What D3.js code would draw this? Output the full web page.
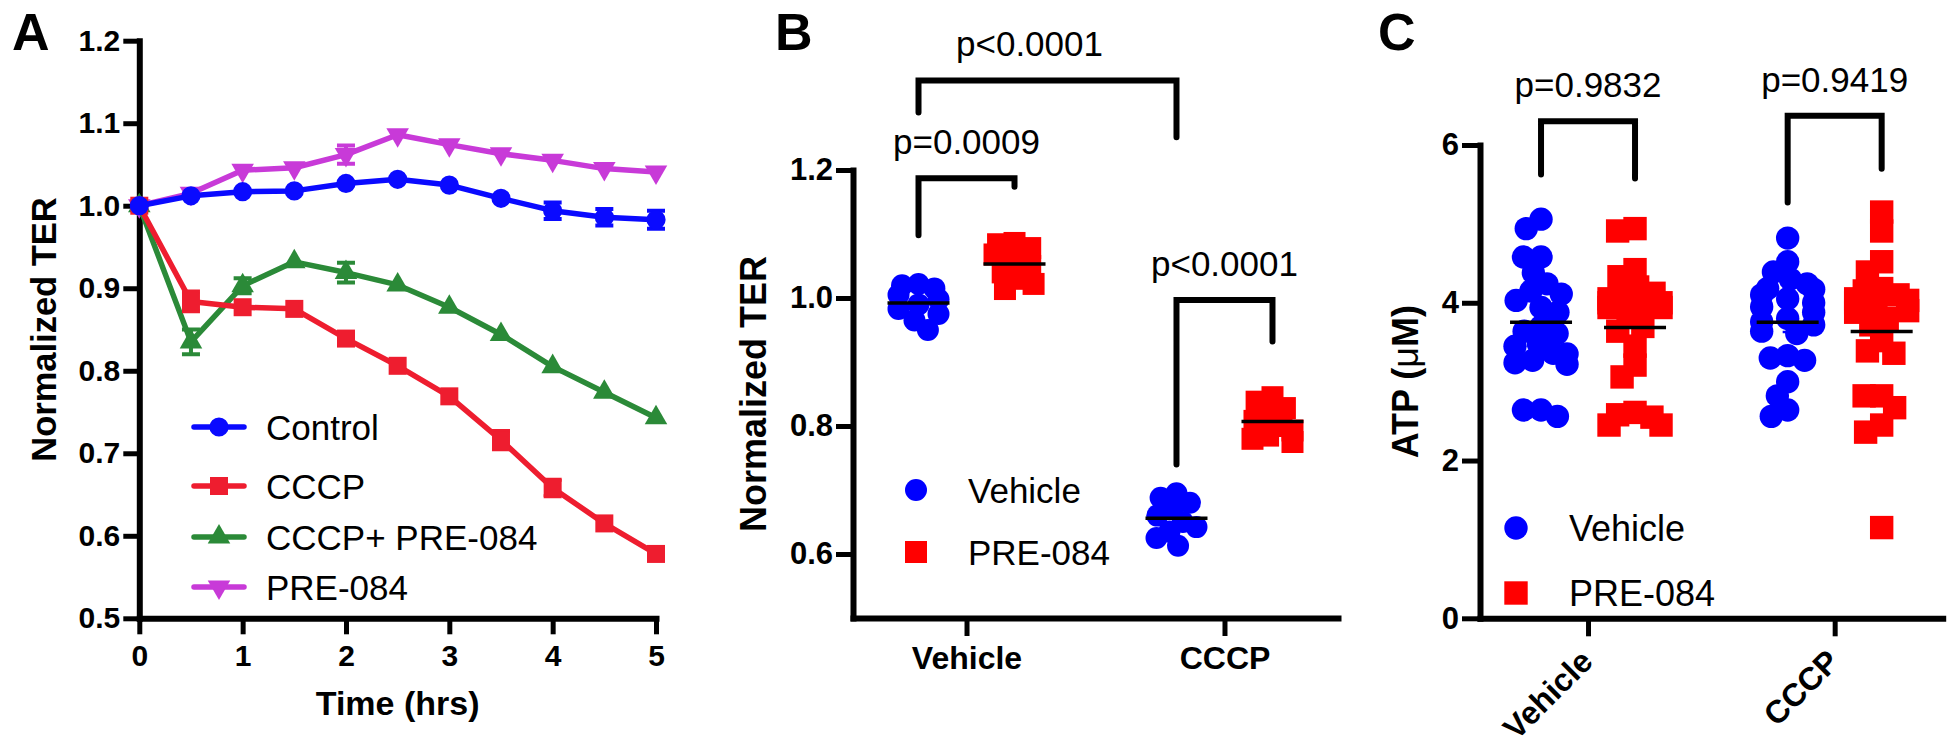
<!DOCTYPE html>
<html><head><meta charset="utf-8">
<script src="https://cdn.jsdelivr.net/npm/d3@7"></script>
<style>
body{margin:0;background:#fff;}
svg text{font-family:"Liberation Sans",Arial,Helvetica,sans-serif;fill:#000;}
</style>
</head><body>
<svg id="chart" width="1950" height="746"></svg>
<script>
// ---------------- Panel A data ----------------
const timeHrs = [0, 0.5, 1, 1.5, 2, 2.5, 3, 3.5, 4, 4.5, 5];
const controlMean = [1.000, 1.012, 1.017, 1.018, 1.027, 1.032, 1.025, 1.009, 0.994, 0.986, 0.983];
const controlSem  = [0, 0.003, 0.003, 0.003, 0.003, 0.003, 0.003, 0.004, 0.010, 0.010, 0.011];
const cccpMean    = [1.000, 0.884, 0.877, 0.875, 0.839, 0.806, 0.769, 0.716, 0.658, 0.615, 0.578];
const cccpSem     = [0, 0.012, 0.004, 0.004, 0.004, 0.004, 0.004, 0.011, 0.010, 0.004, 0.004];
const cccpPreMean = [1.000, 0.835, 0.903, 0.932, 0.919, 0.904, 0.877, 0.844, 0.805, 0.774, 0.743];
const cccpPreSem  = [0, 0.015, 0.009, 0.004, 0.012, 0.004, 0.004, 0.004, 0.004, 0.004, 0.004];
const preMean     = [1.000, 1.015, 1.043, 1.046, 1.062, 1.086, 1.074, 1.063, 1.055, 1.045, 1.041];
const preSem      = [0, 0.003, 0.004, 0.004, 0.011, 0.004, 0.003, 0.003, 0.003, 0.003, 0.003];
const seriesNamesA = ["Control", "CCCP", "CCCP+ PRE-084", "PRE-084"];
const xTicksA = [0, 1, 2, 3, 4, 5];
const yTicksA = [0.5, 0.6, 0.7, 0.8, 0.9, 1.0, 1.1, 1.2];
const xTitleA = "Time (hrs)";
const yTitleAB = "Normalized TER";

// ---------------- Panel B / C data ----------------
const groupsBC = ["Vehicle", "CCCP"];
const treatments = ["Vehicle", "PRE-084"];
const terVehicleVehicle = [1.022, 1.020, 1.015, 1.005, 0.998, 0.990, 0.983, 0.975, 0.965, 0.950];
const terVehiclePre     = [1.086, 1.084, 1.078, 1.068, 1.058, 1.050, 1.040, 1.030, 1.022, 1.014];
const terCccpVehicle    = [0.695, 0.688, 0.680, 0.670, 0.660, 0.650, 0.642, 0.635, 0.625, 0.613];
const terCccpPre        = [0.845, 0.838, 0.828, 0.818, 0.808, 0.800, 0.793, 0.785, 0.780, 0.775];
const yTicksB = [0.6, 0.8, 1.0, 1.2];
const bracketsB = [
  {a:["Vehicle","Vehicle"], b:["Vehicle","PRE-084"], top:1.187, endA:1.098, endB:1.174, label:"p=0.0009"},
  {a:["Vehicle","Vehicle"], b:["CCCP","Vehicle"],    top:1.340, endA:1.290, endB:1.251, label:"p<0.0001"},
  {a:["CCCP","Vehicle"],    b:["CCCP","PRE-084"],    top:0.997, endA:0.740, endB:0.932, label:"p<0.0001"}
];

const atpVehicleVehicle = [5.06, 4.94, 4.58, 4.58, 4.38, 4.24, 4.15, 4.03, 4.11, 3.94, 3.88, 3.64, 3.61, 3.70, 3.48, 3.45, 3.36, 3.27, 2.64, 2.64, 2.56, 3.35, 3.24, 3.22];
const atpVehiclePre     = [4.91, 4.94, 4.42, 4.33, 4.12, 4.09, 3.94, 3.94, 3.82, 3.70, 3.64, 3.45, 3.21, 3.06, 2.58, 2.61, 2.45, 2.45, 2.55, 4.20, 4.05, 3.98, 4.00, 4.00];
const atpCccpVehicle    = [4.82, 4.52, 4.39, 4.30, 4.24, 4.17, 4.18, 4.00, 3.88, 3.76, 3.64, 3.61, 3.33, 3.30, 3.27, 3.00, 2.82, 2.64, 2.56, 4.10, 4.05, 3.95, 3.80, 3.72];
const atpCccpPre        = [5.15, 4.91, 4.52, 4.39, 4.18, 4.15, 4.00, 4.03, 3.97, 3.88, 3.52, 3.36, 3.39, 2.82, 2.82, 2.67, 2.45, 2.36, 1.15, 4.10, 4.05, 3.90, 3.80, 3.72];
const yTicksC = [0, 2, 4, 6];
const yTitleC = "ATP (";
const bracketsC = [
  {a:["Vehicle","Vehicle"], b:["Vehicle","PRE-084"], top:6.30, endA:5.625, endB:5.575, label:"p=0.9832"},
  {a:["CCCP","Vehicle"],    b:["CCCP","PRE-084"],    top:6.37, endA:5.27,  endB:5.70,  label:"p=0.9419"}
];
const panelLetters = ["A", "B", "C"];

// ---------------- drawing ----------------
const svg = d3.select("#chart");
const BLUE = "#0000ff", RED = "#ff0000";

function styleAxis(g, fs, bold) {
  g.attr("font-size", null).attr("font-family", null);
  g.select(".domain").attr("stroke", "#000").attr("stroke-width", 6).attr("stroke-linecap", "square");
  g.selectAll(".tick line").attr("stroke", "#000").attr("stroke-width", 5);
  g.selectAll(".tick text").attr("fill", "#000")
    .style("font-size", fs + "px").style("font-weight", bold ? "bold" : "normal");
}

// Panel letters
[[12, 50], [775, 50], [1378, 50]].forEach((p, i) => {
  svg.append("text").attr("x", p[0]).attr("y", p[1]).style("font-size", "52px").style("font-weight", "bold").text(panelLetters[i]);
});

// ===== Panel A =====
const xA = d3.scaleLinear().domain([0, 5]).range([139.3, 656]);
const yA = d3.scaleLinear().domain([0.5, 1.2]).range([618.3, 40.7]);
const gA = svg.append("g");
gA.append("g").attr("transform", `translate(0,${yA(0.5)})`)
  .call(d3.axisBottom(xA).tickValues(xTicksA).tickFormat(d3.format("d")).tickSize(16).tickSizeOuter(0).tickPadding(10))
  .call(g => styleAxis(g, 30, true));
gA.append("g").attr("transform", `translate(${xA(0)},0)`)
  .call(d3.axisLeft(yA).tickValues(yTicksA).tickFormat(d3.format(".1f")).tickSize(16).tickSizeOuter(0).tickPadding(3))
  .call(g => styleAxis(g, 30, true));
gA.append("text").attr("x", (xA(0) + xA(5)) / 2).attr("y", 715).attr("text-anchor", "middle")
  .style("font-size", "34px").style("font-weight", "bold").text(xTitleA);
gA.append("text").attr("transform", `translate(44,${(yA(0.5) + yA(1.2)) / 2}) rotate(-90)`).attr("dy", "0.36em")
  .attr("text-anchor", "middle").style("font-size", "34.5px").style("font-weight", "bold").text(yTitleAB);

const seriesA = [
  {name: seriesNamesA[0], mean: controlMean, sem: controlSem, color: "#0a0aff", sym: d3.symbolCircle, size: 290, rot: 0},
  {name: seriesNamesA[1], mean: cccpMean, sem: cccpSem, color: "#ee1d2f", sym: d3.symbolSquare, size: 324, rot: 0},
  {name: seriesNamesA[2], mean: cccpPreMean, sem: cccpPreSem, color: "#2b8a38", sym: d3.symbolTriangle, size: 220, rot: 0},
  {name: seriesNamesA[3], mean: preMean, sem: preSem, color: "#c83ad8", sym: d3.symbolTriangle, size: 220, rot: 180}
];
const lineA = d3.line().x((d, i) => xA(timeHrs[i])).y(d => yA(d));
[3, 2, 1, 0].forEach(si => {
  const s = seriesA[si];
  const g = gA.append("g");
  g.append("path").attr("d", lineA(s.mean)).attr("fill", "none").attr("stroke", s.color)
    .attr("stroke-width", 5.5).attr("stroke-linejoin", "round");
  s.mean.forEach((m, i) => {
    const e = s.sem[i];
    if (e > 0.005) {
      const x = xA(timeHrs[i]);
      g.append("path").attr("d", `M${x},${yA(m - e)}V${yA(m + e)}M${x - 9},${yA(m - e)}H${x + 9}M${x - 9},${yA(m + e)}H${x + 9}`)
        .attr("stroke", s.color).attr("stroke-width", 4).attr("fill", "none");
    }
  });
  g.selectAll("path.pt").data(s.mean).join("path").attr("class", "pt")
    .attr("transform", (d, i) => `translate(${xA(timeHrs[i])},${yA(d)}) rotate(${s.rot})`)
    .attr("d", d3.symbol().type(s.sym).size(s.size)).attr("fill", s.color);
});
// legend A
const legYA = [427, 486, 537, 587];
seriesA.forEach((s, i) => {
  const y = legYA[i];
  gA.append("line").attr("x1", 194).attr("x2", 244).attr("y1", y).attr("y2", y)
    .attr("stroke", s.color).attr("stroke-width", 5.5).attr("stroke-linecap", "round");
  gA.append("path").attr("transform", `translate(219,${y}) rotate(${s.rot})`)
    .attr("d", d3.symbol().type(s.sym).size(s.size)).attr("fill", s.color);
  gA.append("text").attr("x", 266).attr("y", y + 12.5).style("font-size", "35px").text(s.name);
});

// ===== helpers for scatter panels =====
function swarm(values, y, r, maxOff) {
  const order = values.map((v, i) => i).sort((a, b) => values[b] - values[a]);
  const placed = [], out = new Array(values.length);
  const minD = r * 1.5;
  order.forEach(i => {
    const yi = y(values[i]);
    const iv = [];
    placed.forEach(p => {
      const dy = Math.abs(p.y - yi);
      if (dy < minD) { const dx = Math.sqrt(minD * minD - dy * dy); iv.push([p.x - dx, p.x + dx]); }
    });
    const cands = [0];
    iv.forEach(v => cands.push(v[0], v[1]));
    cands.sort((a, b) => Math.abs(a) - Math.abs(b) || a - b);
    let x = 0;
    for (const c of cands) {
      if (iv.every(v => c <= v[0] + 1e-6 || c >= v[1] - 1e-6)) { x = c; break; }
    }
    x = Math.max(-maxOff, Math.min(maxOff, x));
    placed.push({x: x, y: yi});
    out[i] = x;
  });
  return out;
}

function scatterPanel(cfg) {
  const g = svg.append("g");
  const x = cfg.x, y = cfg.y;
  const gx = (grp, tr) => x(grp) + (tr === treatments[0] ? -cfg.off : cfg.off);
  cfg.sets.forEach(set => {
    const cx = gx(set.group, set.treat);
    const color = set.treat === treatments[0] ? BLUE : RED;
    const jit = swarm(set.values, y, cfg.r, cfg.maxOff);
    set.values.forEach((v, i) => {
      if (set.treat === treatments[0]) {
        g.append("circle").attr("cx", cx + jit[i]).attr("cy", y(v)).attr("r", cfg.r).attr("fill", color);
      } else {
        g.append("rect").attr("x", cx + jit[i] - cfg.r).attr("y", y(v) - cfg.r)
          .attr("width", 2 * cfg.r).attr("height", 2 * cfg.r).attr("fill", color);
      }
    });
    const m = d3.mean(set.values);
    const sem = d3.deviation(set.values) / Math.sqrt(set.values.length);
    g.append("path").attr("d", `M${cx},${y(m - sem)}V${y(m + sem)}M${cx - 5},${y(m - sem)}H${cx + 5}M${cx - 5},${y(m + sem)}H${cx + 5}`)
      .attr("stroke", color).attr("stroke-width", 2.5).attr("fill", "none");
    g.append("line").attr("x1", cx - 31).attr("x2", cx + 31).attr("y1", y(m)).attr("y2", y(m))
      .attr("stroke", "#000").attr("stroke-width", 3.5);
  });
  cfg.brackets.forEach((b, k) => {
    const x1 = gx(b.a[0], b.a[1]), x2 = gx(b.b[0], b.b[1]);
    g.append("path").attr("d", `M${x1},${y(b.endA)}V${y(b.top)}H${x2}V${y(b.endB)}`)
      .attr("fill", "none").attr("stroke", "#000").attr("stroke-width", 6)
      .attr("stroke-linecap", "round").attr("stroke-linejoin", "miter");
    g.append("text").attr("x", (x1 + x2) / 2 + (cfg.labelDx[k] || 0)).attr("y", y(b.top) - 24)
      .attr("text-anchor", "middle").style("font-size", "35px").text(b.label);
  });
  // legend
  g.append("circle").attr("cx", cfg.leg.x).attr("cy", cfg.leg.y1).attr("r", cfg.r).attr("fill", BLUE);
  g.append("rect").attr("x", cfg.leg.x - cfg.r).attr("y", cfg.leg.y2 - cfg.r).attr("width", 2 * cfg.r).attr("height", 2 * cfg.r).attr("fill", RED);
  g.append("text").attr("x", cfg.leg.tx).attr("y", cfg.leg.y1 + 12.5).style("font-size", cfg.leg.fs + "px").text(treatments[0]);
  g.append("text").attr("x", cfg.leg.tx).attr("y", cfg.leg.y2 + 12.5).style("font-size", cfg.leg.fs + "px").text(treatments[1]);
  return g;
}

// ===== Panel B =====
const xB = d3.scalePoint().domain(groupsBC).range([853, 1338]).padding(0.44);
const yB = d3.scaleLinear().domain([0.5, 1.2]).range([618, 170]);
const gBax = svg.append("g");
gBax.append("g").attr("transform", `translate(0,${yB(0.5)})`)
  .call(d3.axisBottom(xB).tickSize(18).tickSizeOuter(0).tickPadding(10))
  .call(g => styleAxis(g, 32, true));
gBax.append("g").attr("transform", `translate(853,0)`)
  .call(d3.axisLeft(yB).tickValues(yTicksB).tickFormat(d3.format(".1f")).tickSize(17).tickSizeOuter(0).tickPadding(3))
  .call(g => styleAxis(g, 31, true));
gBax.append("text").attr("transform", `translate(753,${(yB(0.5) + yB(1.2)) / 2}) rotate(-90)`).attr("dy", "0.36em")
  .attr("text-anchor", "middle").style("font-size", "36px").style("font-weight", "bold").text(yTitleAB);
scatterPanel({
  x: xB, y: yB, off: 48, r: 11, maxOff: 20,
  sets: [
    {group: "Vehicle", treat: "Vehicle", values: terVehicleVehicle},
    {group: "Vehicle", treat: "PRE-084", values: terVehiclePre},
    {group: "CCCP", treat: "Vehicle", values: terCccpVehicle},
    {group: "CCCP", treat: "PRE-084", values: terCccpPre}
  ],
  brackets: bracketsB, labelDx: [0, -18, 0],
  leg: {x: 916, y1: 490, y2: 552, tx: 968, fs: 35}
});

// ===== Panel C =====
const xC = d3.scalePoint().domain(groupsBC).range([1480, 1942.7]).padding(0.438);
const yC = d3.scaleLinear().domain([0, 6]).range([618.3, 145]);
const gCax = svg.append("g");
gCax.append("g").attr("transform", `translate(0,${yC(0)})`)
  .call(d3.axisBottom(xC).tickSize(18).tickSizeOuter(0))
  .call(g => styleAxis(g, 32, true))
  .call(g => g.selectAll(".tick text").attr("y", null).attr("dy", null)
    .attr("text-anchor", "end").attr("transform", "translate(6,45) rotate(-45)"));
gCax.append("g").attr("transform", `translate(1480,0)`)
  .call(d3.axisLeft(yC).tickValues(yTicksC).tickFormat(d3.format("d")).tickSize(18).tickSizeOuter(0).tickPadding(3))
  .call(g => styleAxis(g, 31, true));
const tC = gCax.append("text").attr("transform", `translate(1405,${(yC(0) + yC(6)) / 2}) rotate(-90)`).attr("dy", "0.36em")
  .attr("text-anchor", "middle").style("font-size", "36px").style("font-weight", "bold");
tC.append("tspan").text(yTitleC);
tC.append("tspan").style("font-weight", "normal").text("\u03BC");
tC.append("tspan").text("M)");
scatterPanel({
  x: xC, y: yC, off: 47, r: 11.7, maxOff: 26,
  sets: [
    {group: "Vehicle", treat: "Vehicle", values: atpVehicleVehicle},
    {group: "Vehicle", treat: "PRE-084", values: atpVehiclePre},
    {group: "CCCP", treat: "Vehicle", values: atpCccpVehicle},
    {group: "CCCP", treat: "PRE-084", values: atpCccpPre}
  ],
  brackets: bracketsC, labelDx: [0, 0],
  leg: {x: 1516, y1: 528, y2: 593, tx: 1569, fs: 36}
});
</script>
</body></html>
